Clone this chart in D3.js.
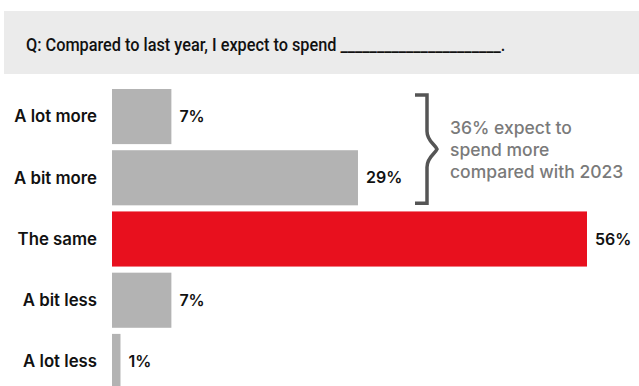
<!DOCTYPE html>
<html>
<head>
<meta charset="utf-8">
<script src="https://cdn.jsdelivr.net/npm/d3@7"></script>
<style>
  body { margin: 0; background: #fff; }
  svg { display: block; font-family: Inter, "Noto Sans", sans-serif; }
</style>
</head>
<body>
<svg></svg>
<script>
const width = 639,
  height = 386;

// Survey answers and shares (%)
const categories = ["A lot more", "A bit more", "The same", "A bit less", "A lot less"];
const values = [7, 29, 56, 7, 1];
const highlight = ["The same"];
const noteLines = ["36% expect to", "spend more", "compared with 2023"];
const title = "Q: Compared to last year, I expect to spend ______________________.";

const svg = d3.select("svg")
  .attr("width", width)
  .attr("height", height);

// Question header band
svg.append("rect")
  .attr("x", 4)
  .attr("y", 11)
  .attr("width", width - 4)
  .attr("height", 63)
  .attr("fill", "#ebebeb");

// Title is set in a condensed cut: squeeze horizontally
svg.append("text")
  .attr("transform", "translate(26,51) scale(0.89,1)")
  .attr("font-family", "Roboto, sans-serif")
  .attr("font-weight", 500)
  .attr("font-size", 18.3)
  .attr("fill", "#111")
  .text(title);

const x = d3.scaleLinear()
  .domain([0, 56])
  .range([112, 587]);

const y = d3.scaleBand()
  .domain(categories)
  .range([89, 389])
  .paddingInner(0.1)
  .paddingOuter(0);

const rows = categories.map((c, i) => ({ cat: c, value: values[i] }));

svg.selectAll("rect.bar")
  .data(rows)
  .enter()
  .append("rect")
  .attr("class", "bar")
  .attr("x", x(0))
  .attr("y", d => y(d.cat))
  .attr("width", d => x(d.value) - x(0))
  .attr("height", y.bandwidth())
  .attr("fill", d => highlight.includes(d.cat) ? "#e8101e" : "#b3b3b3");

// Category labels on the left
svg.selectAll("text.cat")
  .data(rows)
  .enter()
  .append("text")
  .attr("class", "cat")
  .attr("x", 97)
  .attr("y", d => y(d.cat) + y.bandwidth() / 2)
  .attr("dy", "0.35em")
  .attr("text-anchor", "end")
  .attr("font-weight", 600)
  .attr("font-size", 16.8)
  .attr("fill", "#111")
  .text(d => d.cat);

// Value labels after each bar
svg.selectAll("text.val")
  .data(rows)
  .enter()
  .append("text")
  .attr("class", "val")
  .attr("x", d => x(d.value) + 8)
  .attr("y", d => y(d.cat) + y.bandwidth() / 2)
  .attr("dy", "0.35em")
  .attr("font-weight", 600)
  .attr("font-size", 16)
  .attr("fill", "#111")
  .text(d => d.value + "%");

// Bracket grouping the "more" answers
const bTop = y(categories[0]) + 6,
  bBottom = y(categories[1]) + y.bandwidth() - 2,
  bMid = (bTop + bBottom) / 2,
  bx = 427;

svg.append("path")
  .attr("d", `M${bx - 12},${bTop} H${bx} V${bMid - 18} C${bx},${bMid - 8} ${bx + 8},${bMid - 5} ${bx + 10},${bMid} C${bx + 8},${bMid + 5} ${bx},${bMid + 8} ${bx},${bMid + 18} V${bBottom} H${bx - 12}`)
  .attr("fill", "none")
  .attr("stroke", "#555")
  .attr("stroke-width", 3.5);

svg.append("text")
  .attr("x", 450)
  .attr("y", 134)
  .attr("font-weight", 500)
  .attr("font-size", 17.5)
  .attr("fill", "#7a7a7a")
  .selectAll("tspan")
  .data(noteLines)
  .enter()
  .append("tspan")
  .attr("x", 450)
  .attr("dy", (d, i) => i === 0 ? 0 : 22)
  .text(d => d);
</script>
</body>
</html>
